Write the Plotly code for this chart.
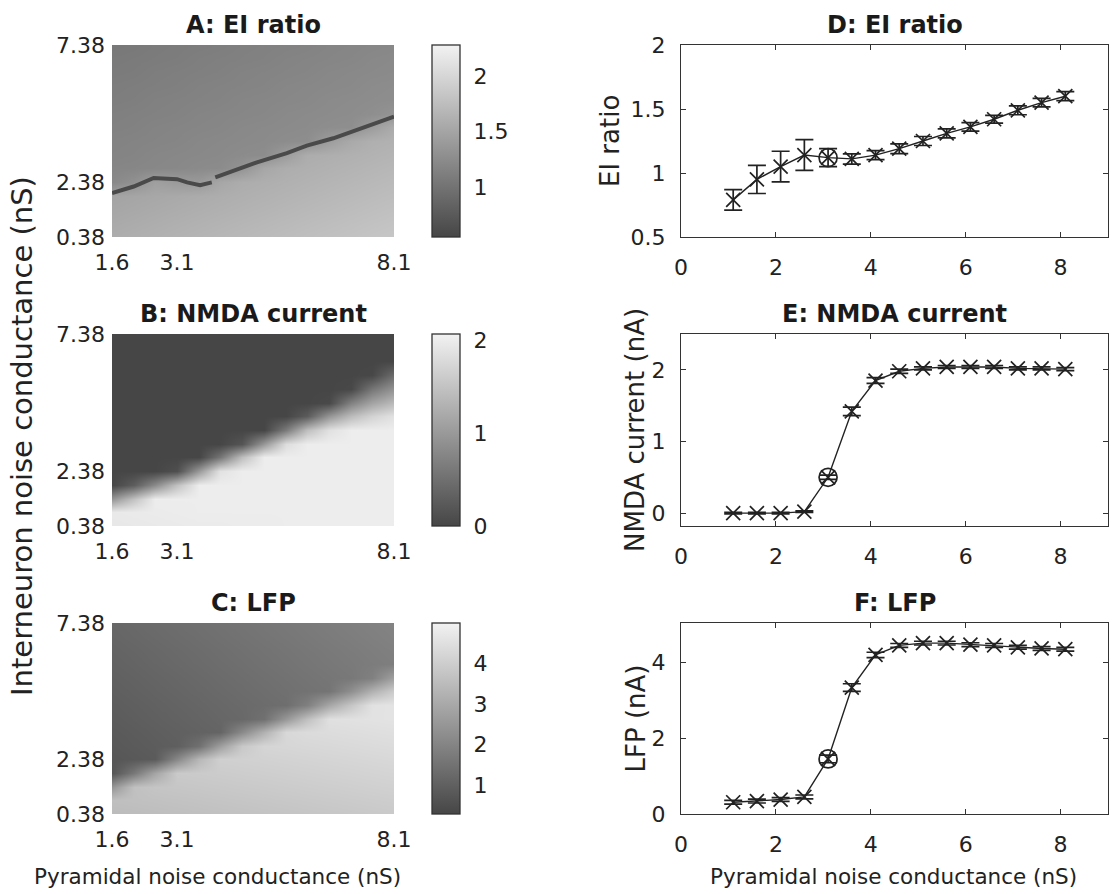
import plotly.graph_objects as go

# ---------------- data ----------------
# heat-map grids (nS)
pyr_grid = [1.6, 2.1, 2.6, 3.1, 3.6, 4.1, 4.6, 5.1, 5.6, 6.1, 6.6, 7.1, 7.6, 8.1]
int_grid = [0.38, 0.88, 1.38, 1.88, 2.38, 2.88, 3.38, 3.88, 4.38, 4.88, 5.38, 5.88, 6.38, 6.88, 7.38]

heat_xticks = [1.6, 3.1, 8.1]
heat_yticks = [0.38, 2.38, 7.38]

# A: EI ratio map (rows = interneuron conductance, bottom to top)
ei_map = [
    [1.58, 1.60, 1.62, 1.64, 1.66, 1.68, 1.70, 1.72, 1.74, 1.76, 1.78, 1.80, 1.82, 1.84],
    [1.55, 1.57, 1.59, 1.61, 1.63, 1.65, 1.67, 1.69, 1.71, 1.73, 1.75, 1.77, 1.79, 1.81],
    [1.52, 1.54, 1.56, 1.58, 1.60, 1.62, 1.64, 1.66, 1.68, 1.70, 1.72, 1.74, 1.76, 1.78],
    [1.49, 1.51, 1.53, 1.55, 1.57, 1.59, 1.61, 1.63, 1.65, 1.67, 1.69, 1.71, 1.73, 1.75],
    [1.22, 1.30, 1.45, 1.40, 1.38, 1.52, 1.58, 1.60, 1.62, 1.64, 1.66, 1.68, 1.70, 1.72],
    [1.19, 1.20, 1.21, 1.22, 1.24, 1.25, 1.33, 1.52, 1.59, 1.61, 1.63, 1.65, 1.67, 1.69],
    [1.17, 1.18, 1.20, 1.21, 1.22, 1.23, 1.25, 1.26, 1.42, 1.58, 1.60, 1.62, 1.64, 1.66],
    [1.16, 1.17, 1.18, 1.19, 1.21, 1.22, 1.23, 1.24, 1.26, 1.27, 1.42, 1.55, 1.61, 1.63],
    [1.14, 1.15, 1.17, 1.18, 1.19, 1.20, 1.22, 1.23, 1.24, 1.25, 1.27, 1.28, 1.42, 1.57],
    [1.13, 1.14, 1.15, 1.16, 1.18, 1.19, 1.20, 1.21, 1.23, 1.24, 1.25, 1.26, 1.28, 1.33],
    [1.11, 1.12, 1.14, 1.15, 1.16, 1.17, 1.19, 1.20, 1.21, 1.22, 1.24, 1.25, 1.26, 1.27],
    [1.10, 1.11, 1.12, 1.13, 1.15, 1.16, 1.17, 1.18, 1.20, 1.21, 1.22, 1.23, 1.25, 1.26],
    [1.08, 1.09, 1.11, 1.12, 1.13, 1.14, 1.16, 1.17, 1.18, 1.19, 1.21, 1.22, 1.23, 1.24],
    [1.07, 1.08, 1.09, 1.10, 1.12, 1.13, 1.14, 1.15, 1.17, 1.18, 1.19, 1.20, 1.22, 1.23],
    [1.05, 1.06, 1.08, 1.09, 1.10, 1.11, 1.13, 1.14, 1.15, 1.16, 1.18, 1.19, 1.20, 1.21],
]
ei_range = [0.55, 2.28]
ei_cbar_ticks = [1, 1.5, 2]

# dark ridge visible in panel A
ridge_x = [1.6, 2.10, 2.56, 3.10, 3.33, 3.63, 3.90, None, 3.98, 4.55, 4.94, 5.63, 6.09, 6.70, 7.16, 7.70, 8.10]
ridge_y = [1.98, 2.22, 2.53, 2.49, 2.37, 2.27, 2.37, None, 2.55, 2.89, 3.10, 3.44, 3.71, 3.98, 4.23, 4.53, 4.77]

# B: NMDA current map (nA)
nmda_map = [
    [1.94, 1.95, 1.96, 1.97, 1.98, 1.98, 1.99, 1.99, 2.00, 2.00, 2.00, 2.00, 2.00, 2.00],
    [1.96, 1.97, 1.98, 1.99, 2.00, 2.00, 2.00, 2.00, 2.00, 2.00, 2.00, 2.00, 2.00, 2.00],
    [0.95, 1.49, 2.00, 2.00, 2.00, 2.00, 2.00, 2.00, 2.00, 2.00, 2.00, 2.00, 2.00, 2.00],
    [0.00, 0.29, 0.83, 1.48, 2.00, 2.00, 2.00, 2.00, 2.00, 2.00, 2.00, 2.00, 2.00, 2.00],
    [0.00, 0.00, 0.00, 0.11, 1.00, 1.87, 2.00, 2.00, 2.00, 2.00, 2.00, 2.00, 2.00, 2.00],
    [0.00, 0.00, 0.00, 0.00, 0.00, 0.57, 1.44, 2.00, 2.00, 2.00, 2.00, 2.00, 2.00, 2.00],
    [0.00, 0.00, 0.00, 0.00, 0.00, 0.00, 0.18, 0.99, 1.81, 2.00, 2.00, 2.00, 2.00, 2.00],
    [0.00, 0.00, 0.00, 0.00, 0.00, 0.00, 0.00, 0.00, 0.64, 1.44, 1.85, 2.00, 2.00, 2.00],
    [0.00, 0.00, 0.00, 0.00, 0.00, 0.00, 0.00, 0.00, 0.00, 0.26, 0.95, 1.41, 1.69, 1.87],
    [0.00, 0.00, 0.00, 0.00, 0.00, 0.00, 0.00, 0.00, 0.00, 0.00, 0.04, 0.72, 1.13, 1.40],
    [0.00, 0.00, 0.00, 0.00, 0.00, 0.00, 0.00, 0.00, 0.00, 0.00, 0.00, 0.03, 0.58, 0.93],
    [0.00, 0.00, 0.00, 0.00, 0.00, 0.00, 0.00, 0.00, 0.00, 0.00, 0.00, 0.00, 0.02, 0.46],
    [0.00, 0.00, 0.00, 0.00, 0.00, 0.00, 0.00, 0.00, 0.00, 0.00, 0.00, 0.00, 0.00, 0.00],
    [0.00, 0.00, 0.00, 0.00, 0.00, 0.00, 0.00, 0.00, 0.00, 0.00, 0.00, 0.00, 0.00, 0.00],
    [0.00, 0.00, 0.00, 0.00, 0.00, 0.00, 0.00, 0.00, 0.00, 0.00, 0.00, 0.00, 0.00, 0.00],
]
nmda_range = [0.0, 2.065]
nmda_cbar_ticks = [0, 1, 2]

# C: LFP map (nA)
lfp_map = [
    [3.50, 3.53, 3.56, 3.59, 3.62, 3.65, 3.68, 3.71, 3.74, 3.77, 3.80, 3.83, 3.86, 3.89],
    [3.60, 3.63, 3.66, 3.69, 3.72, 3.75, 3.78, 3.81, 3.84, 3.87, 3.90, 3.93, 3.96, 3.99],
    [2.45, 3.64, 3.76, 3.79, 3.82, 3.85, 3.88, 3.91, 3.94, 3.97, 4.00, 4.03, 4.06, 4.09],
    [0.69, 1.67, 2.88, 3.89, 3.92, 3.95, 3.98, 4.01, 4.04, 4.07, 4.10, 4.13, 4.16, 4.19],
    [0.73, 0.79, 0.85, 2.08, 3.38, 4.05, 4.08, 4.11, 4.14, 4.17, 4.20, 4.23, 4.26, 4.29],
    [0.78, 0.84, 0.90, 0.96, 1.45, 2.71, 3.85, 4.21, 4.24, 4.27, 4.30, 4.33, 4.36, 4.39],
    [0.82, 0.88, 0.94, 1.00, 1.06, 1.12, 2.14, 3.21, 4.28, 4.37, 4.40, 4.43, 4.46, 4.49],
    [0.87, 0.93, 0.99, 1.05, 1.11, 1.17, 1.23, 1.45, 2.52, 3.61, 4.50, 4.53, 4.56, 4.59],
    [0.91, 0.97, 1.03, 1.09, 1.15, 1.21, 1.27, 1.33, 1.39, 1.86, 2.93, 3.78, 4.54, 4.60],
    [0.96, 1.02, 1.08, 1.14, 1.20, 1.26, 1.32, 1.38, 1.44, 1.50, 1.56, 2.28, 3.20, 3.94],
    [1.00, 1.06, 1.12, 1.18, 1.24, 1.30, 1.36, 1.42, 1.48, 1.54, 1.60, 1.66, 1.89, 2.77],
    [1.05, 1.11, 1.17, 1.23, 1.29, 1.35, 1.41, 1.47, 1.53, 1.59, 1.65, 1.71, 1.77, 1.83],
    [1.09, 1.15, 1.21, 1.27, 1.33, 1.39, 1.45, 1.51, 1.57, 1.63, 1.69, 1.75, 1.81, 1.87],
    [1.14, 1.20, 1.26, 1.32, 1.38, 1.44, 1.50, 1.56, 1.62, 1.68, 1.74, 1.80, 1.86, 1.92],
    [1.18, 1.24, 1.30, 1.36, 1.42, 1.48, 1.54, 1.60, 1.66, 1.72, 1.78, 1.84, 1.90, 1.96],
]
lfp_range = [0.28, 5.0]
lfp_cbar_ticks = [1, 2, 3, 4]

# right column: slices vs pyramidal noise conductance
pyr_noise = [1.1, 1.6, 2.1, 2.6, 3.1, 3.6, 4.1, 4.6, 5.1, 5.6, 6.1, 6.6, 7.1, 7.6, 8.1]
selected_index = 4  # 3.1 nS, circled

ei_mean = [0.79, 0.95, 1.05, 1.14, 1.12, 1.11, 1.14, 1.19, 1.25, 1.31, 1.36, 1.42, 1.49, 1.55, 1.60]
ei_err = [0.08, 0.11, 0.12, 0.12, 0.07, 0.04, 0.035, 0.038, 0.035, 0.035, 0.033, 0.03, 0.035, 0.033, 0.035]

nmda_mean = [0.0, 0.0, 0.0, 0.02, 0.50, 1.42, 1.85, 1.98, 2.02, 2.04, 2.04, 2.04, 2.02, 2.02, 2.01]
nmda_err = [0.01, 0.01, 0.01, 0.01, 0.03, 0.06, 0.04, 0.03, 0.02, 0.02, 0.02, 0.02, 0.02, 0.02, 0.02]

lfp_mean = [0.31, 0.34, 0.38, 0.45, 1.45, 3.33, 4.19, 4.44, 4.50, 4.50, 4.46, 4.44, 4.39, 4.36, 4.34]
lfp_err = [0.05, 0.05, 0.05, 0.05, 0.10, 0.10, 0.07, 0.05, 0.05, 0.05, 0.05, 0.05, 0.05, 0.05, 0.05]

right_xticks = [0, 2, 4, 6, 8]

# ---------------- styling ----------------
W, H = 1114, 894
FONT = "DejaVu Sans, Verdana, sans-serif"
TXT = "#222222"
LINE = "#333333"
gray_scale = [[0, "rgb(70,70,70)"], [1, "rgb(242,242,242)"]]
TICK = dict(family=FONT, size=22, color=TXT)

def px_x(p):
    return p / W

def px_y(p):
    return 1 - p / H

left_dom = [px_x(112), px_x(394)]
right_dom = [px_x(681), px_x(1108)]
rows = [(45, 237), (334, 526), (623, 814)]
row_dom = [[px_y(b), px_y(t)] for t, b in rows]

fig = go.Figure()

maps = [
    ("A: EI ratio", ei_map, ei_range, ei_cbar_ticks),
    ("B: NMDA current", nmda_map, nmda_range, nmda_cbar_ticks),
    ("C: LFP", lfp_map, lfp_range, lfp_cbar_ticks),
]
slices = [
    ("D: EI ratio", ei_mean, ei_err, "EI ratio", [0.5, 2.0], [0.5, 1, 1.5, 2], 610),
    ("E: NMDA current", nmda_mean, nmda_err, "NMDA current (nA)", [-0.18, 2.5], [0, 1, 2], 635),
    ("F: LFP", lfp_mean, lfp_err, "LFP (nA)", [0, 5.03], [0, 2, 4], 635),
]

layout = dict(
    width=W, height=H,
    margin=dict(l=0, r=0, t=0, b=0, autoexpand=False),
    paper_bgcolor="white", plot_bgcolor="white",
    showlegend=False,
    font=dict(family=FONT, size=22, color=TXT),
)
annotations = []

for i, (title, z, zr, cticks) in enumerate(maps):
    ax = 2 * i + 1
    xa = "x" if ax == 1 else f"x{ax}"
    ya = "y" if ax == 1 else f"y{ax}"
    top, bot = rows[i]
    fig.add_trace(go.Heatmap(
        x=pyr_grid, y=int_grid, z=z, xaxis=xa, yaxis=ya,
        zmin=zr[0], zmax=zr[1], zsmooth="best",
        colorscale=gray_scale, showscale=True,
        colorbar=dict(
            x=px_x(432), xanchor="left", xpad=0,
            y=px_y(top), yanchor="top", ypad=0,
            len=(bot - top) / H, lenmode="fraction",
            thickness=28, thicknessmode="pixels",
            outlinewidth=1.3, outlinecolor=LINE,
            tickvals=cticks, ticks="outside", ticklen=9,
            tickcolor="rgba(0,0,0,0)", tickfont=TICK,
        ),
        hoverinfo="skip",
    ))
    if i == 0:
        fig.add_trace(go.Scatter(
            x=ridge_x, y=ridge_y, xaxis=xa, yaxis=ya, mode="lines",
            line=dict(color="rgb(74,74,74)", width=4), hoverinfo="skip",
        ))
    key_x = "xaxis" if ax == 1 else f"xaxis{ax}"
    key_y = "yaxis" if ax == 1 else f"yaxis{ax}"
    layout[key_x] = dict(
        domain=left_dom, anchor=ya, range=[1.6, 8.1], automargin=False,
        tickvals=heat_xticks, ticktext=[f"{v:g}" for v in heat_xticks],
        showgrid=False, zeroline=False, showline=False, ticks="",
        ticklabelstandoff=10, tickfont=TICK,
    )
    layout[key_y] = dict(
        domain=row_dom[i], anchor=xa, range=[0.38, 7.38], automargin=False,
        tickvals=heat_yticks, ticktext=[f"{v:.2f}" for v in heat_yticks],
        showgrid=False, zeroline=False, showline=False, ticks="",
        ticklabelstandoff=6, tickfont=TICK,
    )
    annotations.append(dict(
        text=f"<b>{title}</b>", x=(left_dom[0] + left_dom[1]) / 2,
        y=px_y(top - 20), xref="paper", yref="paper",
        xanchor="center", yanchor="middle", showarrow=False,
        font=dict(family=FONT, size=24, color="#1a1a1a"),
    ))

for i, (title, mean, err, ylab, yr, yt, ylab_x) in enumerate(slices):
    ax = 2 * i + 2
    xa, ya = f"x{ax}", f"y{ax}"
    top, bot = rows[i]
    fig.add_trace(go.Scatter(
        x=pyr_noise, y=mean, xaxis=xa, yaxis=ya, mode="lines+markers",
        line=dict(color="#222222", width=1.4),
        marker=dict(symbol="x-thin-open", size=14, color="#222222",
                    line=dict(color="#222222", width=1.7)),
        error_y=dict(type="data", array=err, visible=True,
                     color="#222222", thickness=1.7, width=9),
        hoverinfo="skip",
    ))
    fig.add_trace(go.Scatter(
        x=[pyr_noise[selected_index]], y=[mean[selected_index]],
        xaxis=xa, yaxis=ya, mode="markers",
        marker=dict(symbol="circle-open", size=18, color="#222222",
                    line=dict(color="#222222", width=1.7)),
        hoverinfo="skip",
    ))
    layout[f"xaxis{ax}"] = dict(
        domain=right_dom, anchor=ya, range=[0, 9], automargin=False,
        tickvals=right_xticks, showgrid=False, zeroline=False,
        showline=True, linecolor=LINE, linewidth=1.3, mirror="ticks",
        ticks="inside", ticklen=5, tickcolor=LINE, tickwidth=1.2,
        ticklabelstandoff=10, tickfont=TICK,
    )
    layout[f"yaxis{ax}"] = dict(
        domain=row_dom[i], anchor=xa, range=yr, automargin=False,
        tickvals=yt, ticktext=[f"{v:g}" for v in yt],
        showgrid=False, zeroline=False,
        showline=True, linecolor=LINE, linewidth=1.3, mirror="ticks",
        ticks="inside", ticklen=5, tickcolor=LINE, tickwidth=1.2,
        ticklabelstandoff=10, tickfont=TICK,
    )
    annotations.append(dict(
        text=ylab, x=px_x(ylab_x), y=px_y((top + bot) / 2),
        xref="paper", yref="paper", xanchor="center", yanchor="middle",
        textangle=-90, showarrow=False,
        font=dict(family=FONT, size=26, color=TXT),
    ))
    annotations.append(dict(
        text=f"<b>{title}</b>", x=(right_dom[0] + right_dom[1]) / 2,
        y=px_y(top - 20), xref="paper", yref="paper",
        xanchor="center", yanchor="middle", showarrow=False,
        font=dict(family=FONT, size=24, color="#1a1a1a"),
    ))

# shared axis titles
annotations.append(dict(
    text="Interneuron noise conductance (nS)", x=px_x(22), y=px_y(436),
    xref="paper", yref="paper", xanchor="center", yanchor="middle",
    textangle=-90, showarrow=False,
    font=dict(family=FONT, size=29, color=TXT),
))
for cx in (217, 893):
    annotations.append(dict(
        text="Pyramidal noise conductance (nS)", x=px_x(cx), y=px_y(876),
        xref="paper", yref="paper", xanchor="center", yanchor="middle",
        showarrow=False, font=dict(family=FONT, size=21.5, color=TXT),
    ))

layout["annotations"] = annotations
fig.update_layout(**layout)
fig.write_html("out.html")
